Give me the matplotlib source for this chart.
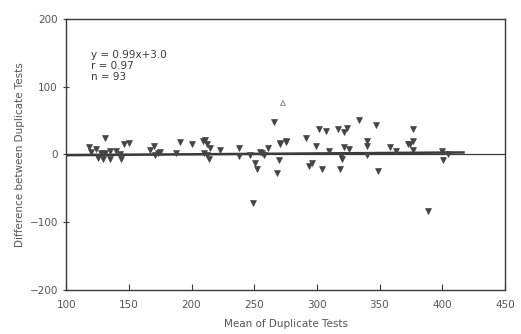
import matplotlib
matplotlib.use("Agg")
import matplotlib.pyplot as plt

# duplicate-test points (mean, difference)
mean_vals = [118, 120, 124, 125, 128, 129, 131, 131, 135, 135, 140, 143, 144, 146,
             150, 167, 170, 171, 173, 175, 188, 191, 200, 209, 211, 212, 215, 210,
             212, 214, 222.5, 238, 238, 247, 250.5, 252, 255, 256, 258, 261, 249,
             266, 268, 270, 271, 275, 270.5, 275.5, 291, 294, 296, 299.5, 302,
             307.5, 304.5, 310, 317, 322, 324, 319, 320, 318.5, 322, 326, 334,
             340, 340, 340, 347, 348.5, 358, 363, 374, 376.5, 377, 376.5, 373,
             388.5, 400, 404.5, 400.5]
diff_vals = [11, 3, 8, -5, 2.5, -6, 24.6, 1.5, 5, -6, 5, 0, -6, 15,
             17, 6, 12, -1.5, 1.5, 3, 2.5, 18, 15, 20, 22, 15, 10, 2.5,
             -1.5, -7, 6, 10, -2.5, -1.5, -13, -22, 3, 2.5, -1.5, 10, -71,
             48, -28, -8, 15, 18, 17, 20, 25, -17, -12, 12, 37,
             34, -21, 5, 37, 33, 39, -2.5, -7, -22, 11, 8, 51,
             20, 12, -1.5, 44, -25, 11, 5, 16, 20, 37, 7, 16,
             -84, 5, 0, -8]
outlier_x = [273]
outlier_y = [76]

fit_x = [100, 417]
fit_y = [-1, 3]

stats_lines = ["y = 0.99x+3.0", "r = 0.97", "n = 93"]

x_ticks = [100, 150, 200, 250, 300, 350, 400, 450]
y_ticks = [-200, -100, 0, 100, 200]

ink = "#3a3a3a"
label_ink = "#555555"

fig = plt.figure(figsize=(5.21, 3.34), dpi=100)
ax = fig.add_axes([0.127, 0.132, 0.842, 0.811])

ax.axhline(0, color=ink, linewidth=0.9)
ax.plot(fit_x, fit_y, color=ink, linewidth=1.8)
ax.scatter(mean_vals, diff_vals, marker="v", s=18, color="#444444",
           edgecolors="#444444", linewidths=0.5, zorder=3)
ax.scatter(outlier_x, outlier_y, marker="^", s=12, facecolors="none",
           edgecolors="#888888", linewidths=0.7, zorder=3)

ax.text(120, 155, "\n".join(stats_lines), fontsize=7.5, color=ink,
        va="top", ha="left", linespacing=1.15)

ax.set_xlim(100, 450)
ax.set_ylim(-200, 200)
ax.set_xticks(x_ticks)
ax.set_yticks(y_ticks)
ax.tick_params(direction="in", length=4, width=0.8, colors=ink,
               labelsize=7.5, labelcolor=label_ink)
ax.tick_params(axis="x", pad=7)
ax.tick_params(axis="y", direction="inout", length=5)
for s in ax.spines.values():
    s.set_color(ink)
    s.set_linewidth(1.0)

ax.set_xlabel("Mean of Duplicate Tests", fontsize=7.5, color=label_ink, labelpad=7)
ax.set_ylabel("Difference between Duplicate Tests", fontsize=7.5, color=label_ink,
              labelpad=3)

fig.savefig("out.png", dpi=100)
